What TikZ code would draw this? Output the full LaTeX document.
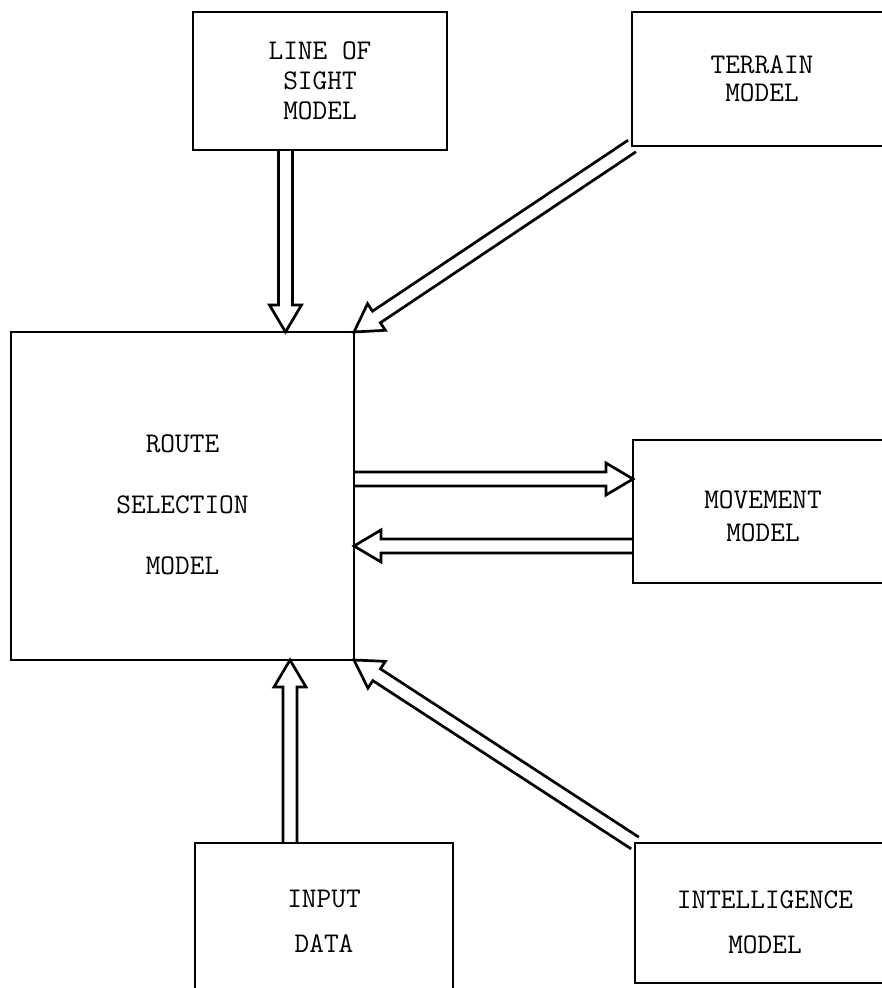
\documentclass[tikz,border=0pt]{standalone}
\usepackage{fontspec}
\usetikzlibrary{calc}
\tikzset{
  box/.style={draw, line width=2.8pt, outer sep=0pt, inner sep=0pt, anchor=north west,
    align=center, font=\fontsize{28.5}{30}\selectfont\ttfamily},
  arr/.style={draw, line width=2.7pt, line join=miter},
}
\newcommand\hollowarrow[2]{%
  \coordinate (hb) at ($(#2)!27pt!(#1)$);
  \draw[arr] ($(#1)!7pt!90:(#2)$) -- ($(hb)!7pt!90:(#2)$) -- ($(hb)!16pt!90:(#2)$)
    -- (#2) -- ($(hb)!16pt!-90:(#2)$) -- ($(hb)!7pt!-90:(#2)$) -- ($(#1)!7pt!-90:(#2)$);}
\begin{document}
\begin{tikzpicture}[x=1pt,y=-1pt]
\useasboundingbox (0,0) rectangle (882,988);
\clip (0,0) rectangle (882,988);
\node[box, minimum width=254pt, minimum height=138pt] (los) at (193,12) {LINE OF\\SIGHT\\MODEL};
\node[box, minimum width=260pt, minimum height=134pt] (ter) at (632,12) {TERRAIN\\[-2pt]MODEL};
\node[box, minimum width=343pt, minimum height=328pt] (route) at (11,332) {\\[6pt]ROUTE\\[31pt]SELECTION\\[31pt]MODEL};
\node[box, minimum width=260pt, minimum height=143pt] (mov) at (633,440) {\\[-2pt]MOVEMENT\\[3pt]MODEL};
\node[box, minimum width=258pt, minimum height=157pt] (inp) at (195,843) {INPUT\\[15pt]DATA};
\node[box, minimum width=260pt, minimum height=140pt] (intel) at (635,843) {\\[7pt]INTELLIGENCE\\[15pt]MODEL};
% connector end points
\coordinate (a1) at ($(los.south)+(-34.5,0)$);
\coordinate (b1) at (a1 |- route.north);
\coordinate (mv1) at ($(mov.west)+(0,-32.5)$);
\coordinate (rt1) at (route.east |- mv1);
\coordinate (mv2) at ($(mov.west)+(0,34.5)$);
\coordinate (rt2) at (route.east |- mv2);
\coordinate (in1) at ($(inp.north)+(-34,0)$);
\coordinate (rt3) at (in1 |- route.south);
\hollowarrow{a1}{b1}
\hollowarrow{ter.south west}{route.north east}
\hollowarrow{rt1}{mv1}
\hollowarrow{mv2}{rt2}
\hollowarrow{in1}{rt3}
\hollowarrow{intel.north west}{route.south east}
\end{tikzpicture}
\end{document}
